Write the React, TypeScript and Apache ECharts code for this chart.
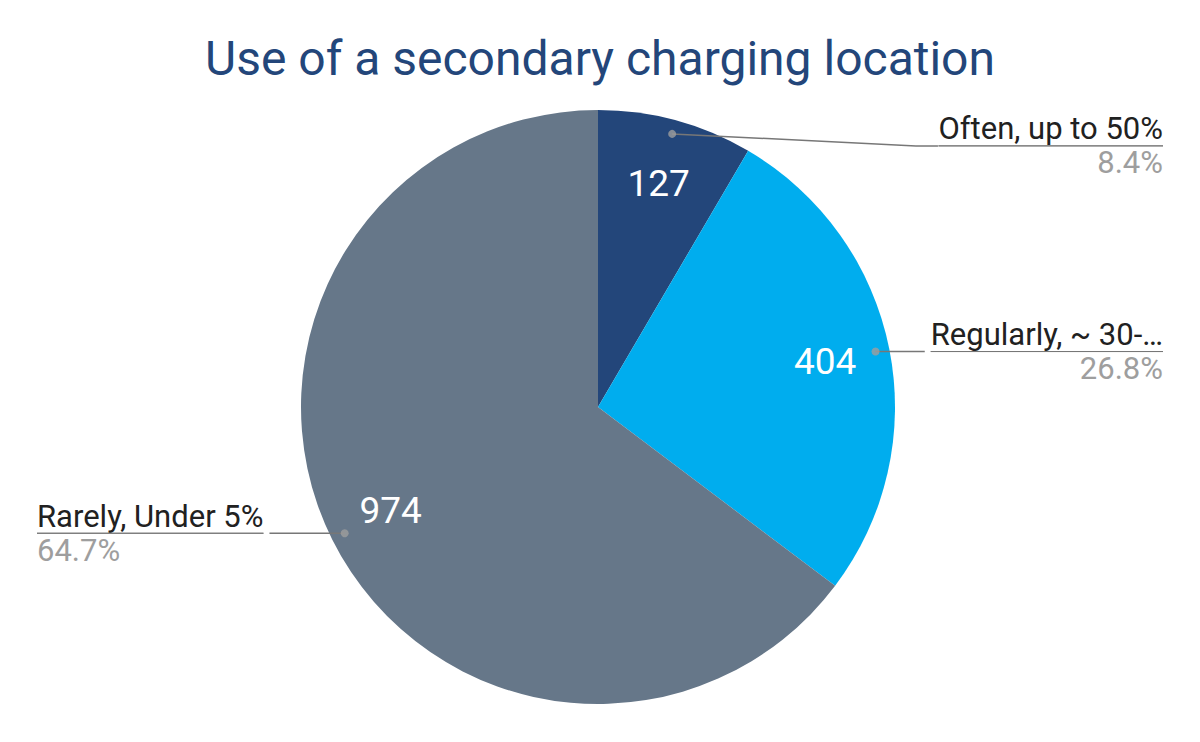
import React, { useEffect, useRef } from "react";
import * as echarts from "echarts";

const titleText = "Use of a secondary charging location";
const categories = ["Often, up to 50%", "Regularly, ~ 30-…", "Rarely, Under 5%"];
const values = [127, 404, 974];
const colors = ["#23467a", "#00adee", "#667789"];

export default function App() {
  const ref = useRef<HTMLDivElement>(null);
  useEffect(() => {
    if (!ref.current) return;
    const chart = echarts.init(ref.current, undefined, { renderer: "svg" });
    const total = values.reduce((a, b) => a + b, 0);
    const mids: number[] = [];
    let cum = 0;
    values.forEach((v) => {
      mids.push(cum + v / 2);
      cum += v;
    });
    const center = [598, 407];
    const R = 297;
    const dotR = 283;
    const fontFamily = "Roboto, sans-serif";
    const data = categories.map((c, i) => ({ name: c, value: values[i], itemStyle: { color: colors[i] } }));
    chart.setOption({
      animation: false,
      backgroundColor: "#ffffff",
      title: {
        text: titleText,
        left: "center",
        top: 29,
        textStyle: { color: "#23467a", fontSize: 48, fontWeight: "normal", fontFamily },
      },
      polar: { center, radius: R },
      angleAxis: { type: "value", min: 0, max: total, startAngle: 90, clockwise: true, show: false },
      radiusAxis: { type: "value", min: 0, max: 1, show: false },
      series: [
        {
          type: "pie",
          center,
          radius: [0, R],
          startAngle: 90,
          clockwise: true,
          silent: true,
          label: { show: false },
          labelLine: { show: false },
          data,
          z: 1,
        },
        {
          type: "pie",
          center,
          radius: [R * 0.54, R],
          startAngle: 90,
          clockwise: true,
          silent: true,
          itemStyle: { color: "transparent" },
          label: {
            show: true,
            position: "inside",
            formatter: "{c}",
            color: "#ffffff",
            fontSize: 37,
            fontFamily,
          },
          labelLine: { show: false },
          data: categories.map((c, i) => ({ name: c, value: values[i] })),
          z: 2,
        },
        {
          type: "pie",
          center,
          radius: [0, dotR],
          startAngle: 90,
          clockwise: true,
          silent: true,
          itemStyle: { color: "transparent" },
          label: {
            show: true,
            position: "outer",
            alignTo: "edge",
            edgeDistance: 37,
            formatter: (p: any) =>
              "{n|" + p.name + "}\n{hr|}\n{p|" + ((p.value / total) * 100).toFixed(1) + "%}",
            fontFamily,
            rich: {
              n: { fontSize: 31, color: "#212121", lineHeight: 34, fontFamily },
              hr: { borderColor: "#777777", width: "100%", borderWidth: 1, height: 0 },
              p: { fontSize: 31, color: "#9e9e9e", lineHeight: 34, fontFamily },
            },
          },
          labelLine: {
            show: true,
            length: 0,
            length2: 20,
            lineStyle: { color: "#777777", width: 1.5 },
          },
          labelLayout: (params: any) => {
            if (params.dataIndex !== 0) return {};
            const pts = params.labelLinePoints;
            const r = params.labelRect;
            if (!pts || !r) return {};
            const shift = 12;
            const cy = r.y + r.height / 2 + shift;
            return {
              dy: shift,
              labelLinePoints: [pts[0], [r.x - 22, cy], [r.x, cy]],
            };
          },
          data: categories.map((c, i) => ({ name: c, value: values[i] })),
          z: 3,
        },
        {
          type: "scatter",
          coordinateSystem: "polar",
          symbolSize: 8,
          itemStyle: { color: "#9e9e9e" },
          silent: true,
          data: mids.map((m) => [dotR / R, m]),
          z: 5,
        },
      ],
    });
    return () => chart.dispose();
  }, []);
  return (
    <div
      ref={ref}
      style={{ position: "fixed", left: 0, top: 0, width: 1200, height: 742 }}
    />
  );
}
